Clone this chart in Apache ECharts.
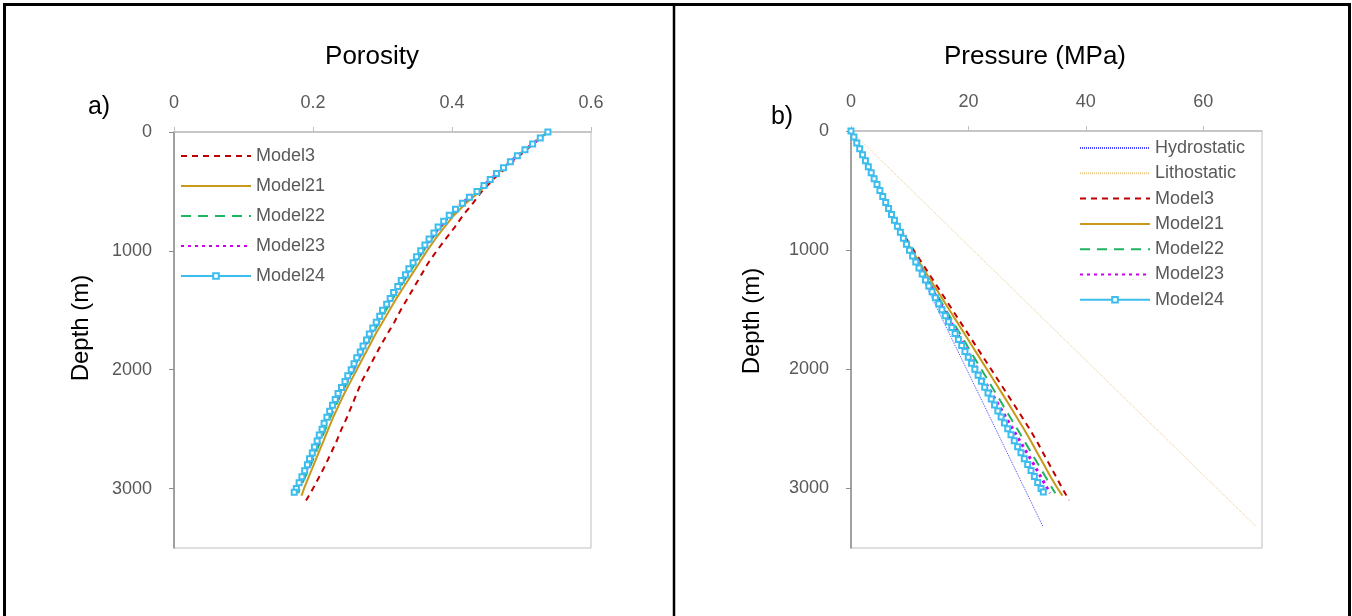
<!DOCTYPE html>
<html>
<head>
<meta charset="utf-8">
<script src="https://cdn.jsdelivr.net/npm/echarts@6/dist/echarts.min.js"></script>
<style>
  html, body { margin: 0; padding: 0; background: #ffffff; }
  #chart { width: 1352px; height: 616px; }
</style>
</head>
<body>
<div id="chart"></div>
<script>
// ---- depth samples (m) ----
const depth100 = [0,100,200,300,400,500,600,700,800,900,1000,1100,1200,1300,1400,1500,1600,1700,1800,1900,2000,2100,2200,2300,2400,2500,2600,2700,2800,2900,3000];
const depthModel3  = depth100.concat([3100]);
const depthModel21 = depth100.concat([3060]);
const depthModel22 = depth100.concat([3040]);
const depthModel23 = depth100.concat([3040]);
const depthModel24 = [0,50,100,150,200,250,300,350,400,450,500,550,600,650,700,750,800,850,900,950,1000,1050,1100,1150,1200,1250,1300,1350,1400,1450,1500,1550,1600,1650,1700,1750,1800,1850,1900,1950,2000,2050,2100,2150,2200,2250,2300,2350,2400,2450,2500,2550,2600,2650,2700,2750,2800,2850,2900,2950,3000,3030];

// ---- porosity (fraction) ----
const porosityModel3  = [0.538,0.517,0.497,0.478,0.459,0.443,0.430,0.416,0.404,0.391,0.378,0.366,0.356,0.346,0.336,0.326,0.317,0.307,0.297,0.288,0.279,0.270,0.263,0.256,0.249,0.241,0.234,0.226,0.218,0.209,0.200,0.190];
const porosityModel21 = [0.538,0.515,0.494,0.474,0.456,0.440,0.420,0.403,0.389,0.376,0.364,0.353,0.342,0.331,0.320,0.310,0.300,0.290,0.281,0.272,0.263,0.254,0.245,0.237,0.229,0.222,0.215,0.208,0.201,0.194,0.187,0.1835];
const porosityModel22 = [0.538,0.516,0.494,0.474,0.455,0.437,0.416,0.399,0.384,0.371,0.359,0.348,0.337,0.326,0.315,0.305,0.295,0.286,0.276,0.267,0.259,0.250,0.241,0.233,0.225,0.218,0.211,0.204,0.197,0.189,0.181,0.179];
const porosityModel23 = [0.538,0.516,0.494,0.474,0.455,0.436,0.414,0.397,0.382,0.369,0.357,0.346,0.335,0.324,0.313,0.302,0.293,0.283,0.274,0.265,0.257,0.248,0.238,0.230,0.222,0.215,0.208,0.201,0.194,0.186,0.178,0.1755];
const porosityModel24 = [0.538,0.527,0.516,0.505,0.494,0.484,0.474,0.464,0.455,0.446,0.436,0.425,0.415,0.405,0.396,0.388,0.380,0.374,0.367,0.361,0.355,0.349,0.344,0.338,0.333,0.327,0.322,0.316,0.311,0.306,0.300,0.296,0.291,0.286,0.281,0.277,0.272,0.268,0.263,0.259,0.255,0.250,0.246,0.241,0.236,0.232,0.228,0.224,0.220,0.216,0.213,0.209,0.206,0.202,0.199,0.195,0.192,0.188,0.184,0.180,0.176,0.173];

// ---- pressure (MPa) ----
const depthHydrostatic = [0, 3320];
const pressureHydrostatic = [0, 32.7];
const depthLithostatic = [0, 3320];
const pressureLithostatic = [0, 69.0];
const pressureModel3  = [0,0.98,1.97,2.96,3.96,4.97,6.00,7.05,8.15,9.35,10.65,11.98,13.30,14.62,15.94,17.26,18.58,19.90,21.22,22.54,23.86,25.18,26.50,27.82,29.12,30.40,31.60,32.70,33.80,34.90,36.00,37.15];
const pressureModel21 = [0,0.98,1.97,2.96,3.95,4.95,5.96,6.98,8.03,9.15,10.35,11.62,12.90,14.18,15.46,16.74,18.02,19.30,20.58,21.86,23.14,24.42,25.70,26.96,28.20,29.42,30.60,31.72,32.84,33.96,35.20,36.00];
const pressureModel22 = [0,0.98,1.97,2.95,3.94,4.93,5.93,6.94,7.97,9.05,10.18,11.36,12.56,13.76,14.96,16.16,17.36,18.56,19.76,20.96,22.20,23.42,24.64,25.86,27.08,28.30,29.50,30.70,31.90,33.10,34.30,34.80];
const pressureModel23 = [0,0.98,1.97,2.95,3.94,4.92,5.92,6.92,7.94,8.98,10.05,11.20,12.35,13.50,14.65,15.80,16.95,18.10,19.25,20.40,21.55,22.75,23.95,25.15,26.35,27.55,28.75,29.95,31.15,32.30,33.45,33.90];
const pressureModel24 = [0,0.49,0.98,1.48,1.97,2.46,2.95,3.44,3.94,4.43,4.92,5.41,5.91,6.40,6.90,7.40,7.90,8.41,8.92,9.44,9.96,10.49,11.03,11.58,12.13,12.69,13.25,13.81,14.37,14.93,15.49,16.05,16.61,17.17,17.73,18.29,18.85,19.41,19.97,20.53,21.09,21.65,22.21,22.77,23.33,23.89,24.45,25.01,25.57,26.13,26.69,27.25,27.81,28.38,28.95,29.52,30.09,30.66,31.23,31.80,32.37,32.75];

// ---- axis ticks ----
const porosityTicks = [0, 0.2, 0.4, 0.6];
const pressureTicks = [0, 20, 40, 60];
const depthTicks = [0, 1000, 2000, 3000];

const FONT = "'Liberation Sans', Arial, sans-serif";
const LABEL_GREY = '#595959';

function pairs(xs, ds) { return ds.map((d, i) => [xs[i], d]); }

// line looks shared by both panels
const styles = {
  Model3:  { color: '#c00000', lineStyle: { width: 2, type: [6, 5] } },
  Model21: { color: '#c9991c', lineStyle: { width: 2, type: 'solid' } },
  Model22: { color: '#1fb560', lineStyle: { width: 2, type: [10, 7] } },
  Model23: { color: '#cc00ee', lineStyle: { width: 3, type: [3, 4] } },
  Model24: { color: '#3cbdee', lineStyle: { width: 1, type: 'solid' } },
  Hydrostatic: { color: '#4646ff', lineStyle: { width: 1, type: [1, 1] } },
  Lithostatic: { color: '#e9c98c', lineStyle: { width: 1, type: [1, 1] } }
};

function lineSeries(name, data, gridIdx, shownName) {
  const s = styles[name];
  const isMarked = name === 'Model24';
  return {
    name: shownName || name,
    type: 'line',
    xAxisIndex: gridIdx,
    yAxisIndex: gridIdx,
    data: data,
    color: s.color,
    symbol: isMarked ? 'emptyRect' : 'none',
    symbolSize: 5,
    showSymbol: isMarked,
    itemStyle: { color: s.color, borderWidth: 1 },
    lineStyle: Object.assign({ color: s.color, cap: 'butt' }, s.lineStyle),
    emphasis: { disabled: true },
    animation: false,
    z: 2
  };
}

function tickText(ticks, v) {
  const r = +v.toFixed(3);
  return ticks.indexOf(r) >= 0 ? String(r) : '';
}

function valueAxisX(gridIdx, max, interval, ticks) {
  return {
    type: 'value', gridIndex: gridIdx, position: 'top',
    min: 0, max: max, interval: interval,
    axisLine: { show: true, lineStyle: { color: '#bfbfbf', width: 1.5 } },
    axisTick: { show: true, inside: false, length: 5, lineStyle: { color: '#bfbfbf', width: 1 } },
    axisLabel: {
      margin: 20, color: LABEL_GREY, fontFamily: FONT, fontSize: 18,
      showMaxLabel: ticks.indexOf(max) >= 0,
      formatter: v => tickText(ticks, v)
    },
    splitLine: { show: false }
  };
}

function depthAxis(gridIdx) {
  return {
    type: 'value', gridIndex: gridIdx, inverse: true,
    min: 0, max: 3500, interval: 1000,
    axisLine: { show: true, lineStyle: { color: '#8c8c8c', width: 1.5 } },
    axisTick: { show: true, inside: false, length: 5, lineStyle: { color: '#8c8c8c', width: 1 } },
    axisLabel: {
      margin: 22, color: LABEL_GREY, fontFamily: FONT, fontSize: 18,
      showMaxLabel: false,
      formatter: v => tickText(depthTicks, v)
    },
    splitLine: { show: false }
  };
}

function label(text, x, y, size, rotate) {
  return {
    type: 'text', x: x, y: y, rotation: rotate ? Math.PI / 2 : 0,
    style: { text: text, font: size + 'px ' + FONT, fill: '#000000',
             align: 'center', verticalAlign: 'middle',
             textAlign: 'center', textVerticalAlign: 'middle' },
    z: 10
  };
}

function rule(x1, y1, x2, y2, w, color) {
  return { type: 'line', shape: { x1: x1, y1: y1, x2: x2, y2: y2 },
           style: { stroke: color, lineWidth: w }, z: 10 };
}

const legendText = { color: LABEL_GREY, fontFamily: FONT, fontSize: 18 };
// only Model24 shows its marker in the key
function keyItems(names) {
  return names.map(n => n.trim() === 'Model24'
    ? { name: n, itemStyle: { opacity: 1 } }
    : { name: n });
}

const option = {
  backgroundColor: '#ffffff',
  animation: false,
  grid: [
    { left: 174, top: 132, width: 417, height: 416, show: true, borderColor: '#bfbfbf', borderWidth: 1, backgroundColor: 'transparent' },
    { left: 851, top: 131, width: 411, height: 417, show: true, borderColor: '#bfbfbf', borderWidth: 1, backgroundColor: 'transparent' }
  ],
  xAxis: [
    valueAxisX(0, 0.6, 0.2, porosityTicks),
    valueAxisX(1, 70, 20, pressureTicks)
  ],
  yAxis: [depthAxis(0), depthAxis(1)],
  legend: [
    {
      orient: 'vertical', left: 175, top: 142, itemWidth: 70, itemHeight: 7, itemGap: 12,
      data: keyItems(['Model3', 'Model21', 'Model22', 'Model23', 'Model24']),
      itemStyle: { opacity: 0 },
      textStyle: legendText, selectedMode: false
    },
    {
      orient: 'vertical', left: 1074, top: 134, itemWidth: 70, itemHeight: 7, itemGap: 7.3,
      data: keyItems(['Hydrostatic', 'Lithostatic', 'Model3 ', 'Model21 ', 'Model22 ', 'Model23 ', 'Model24 ']),
      itemStyle: { opacity: 0 },
      textStyle: legendText, selectedMode: false
    }
  ],
  series: [
    lineSeries('Model3',  pairs(porosityModel3,  depthModel3),  0),
    lineSeries('Model21', pairs(porosityModel21, depthModel21), 0),
    lineSeries('Model22', pairs(porosityModel22, depthModel22), 0),
    lineSeries('Model23', pairs(porosityModel23, depthModel23), 0),
    lineSeries('Model24', pairs(porosityModel24, depthModel24), 0),

    lineSeries('Hydrostatic', pairs(pressureHydrostatic, depthHydrostatic), 1),
    lineSeries('Lithostatic', pairs(pressureLithostatic, depthLithostatic), 1),
    lineSeries('Model3',  pairs(pressureModel3,  depthModel3),  1, 'Model3 '),
    lineSeries('Model21', pairs(pressureModel21, depthModel21), 1, 'Model21 '),
    lineSeries('Model22', pairs(pressureModel22, depthModel22), 1, 'Model22 '),
    lineSeries('Model23', pairs(pressureModel23, depthModel23), 1, 'Model23 '),
    lineSeries('Model24', pairs(pressureModel24, depthModel24), 1, 'Model24 ')
  ],
  graphic: [
    // panel frame
    rule(3, 4.5, 1351, 4.5, 3, '#000000'),
    rule(4.5, 3, 4.5, 616, 3, '#000000'),
    rule(674, 3, 674, 616, 2.5, '#000000'),
    rule(1349.5, 3, 1349.5, 616, 3, '#000000'),
    // titles and names
    label('Porosity', 372, 57, 26),
    label('Pressure (MPa)', 1035, 57, 26),
    label('a)', 99, 107, 25),
    label('b)', 782, 117, 25),
    label('Depth (m)', 81, 328, 24, true),
    label('Depth (m)', 752, 321, 24, true)
  ]
};

const chart = echarts.init(document.getElementById('chart'), null, { renderer: 'canvas' });
chart.setOption(option);
</script>
</body>
</html>
